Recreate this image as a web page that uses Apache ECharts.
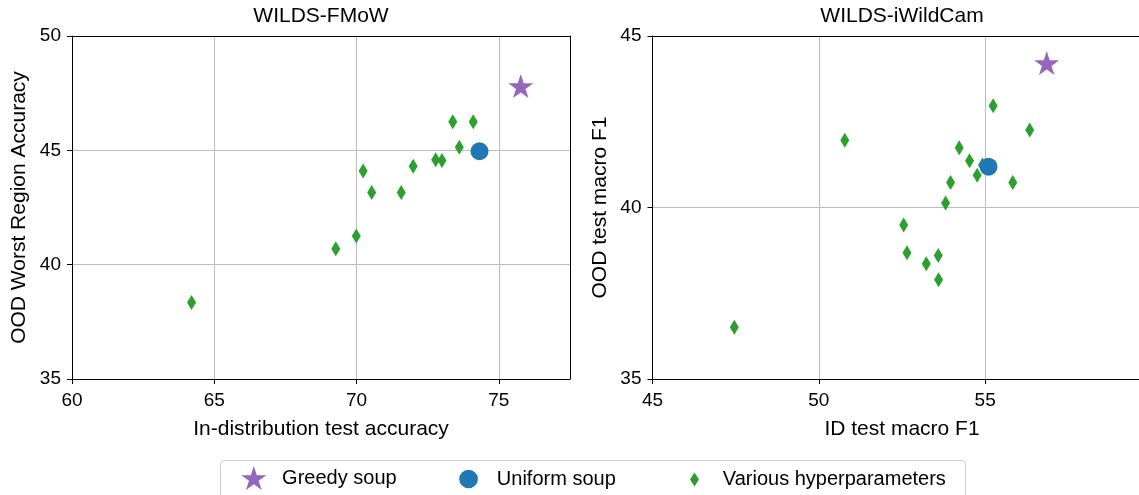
<!DOCTYPE html>
<html>
<head>
<meta charset="utf-8">
<script src="https://cdn.jsdelivr.net/npm/echarts@6/dist/echarts.min.js"></script>
<style>
html,body{margin:0;padding:0;background:#fff;}
#chart{width:1139px;height:495px;}
</style>
</head>
<body>
<div id="chart"></div>
<script>
// ---- data ----
const panelTitles = ['WILDS-FMoW', 'WILDS-iWildCam'];
const xAxisNames = ['In-distribution test accuracy', 'ID test macro F1'];
const yAxisNames = ['OOD Worst Region Accuracy', 'OOD test macro F1'];
const seriesNames = ['Greedy soup', 'Uniform soup', 'Various hyperparameters'];

const fmowXTicks = [60, 65, 70, 75];
const fmowYTicks = [35, 40, 45, 50];
const camXTicks = [45, 50, 55];
const camYTicks = [35, 40, 45];

const fmowGreedy = [[75.77, 47.81]];
const fmowUniform = [[74.32, 44.96]];
const fmowVarious = [
  [73.38, 46.25], [74.10, 46.25], [73.61, 45.13], [72.78, 44.59],
  [73.00, 44.56], [71.99, 44.30], [70.23, 44.10], [70.53, 43.16],
  [71.57, 43.16], [69.99, 41.25], [69.27, 40.70], [64.20, 38.35]
];

const camGreedy = [[56.85, 44.21]];
const camUniform = [[55.10, 41.19]];
const camVarious = [
  [55.24, 42.97], [56.34, 42.26], [50.78, 41.96], [54.22, 41.74],
  [54.53, 41.36], [54.92, 41.24], [54.76, 40.94], [55.83, 40.73],
  [53.96, 40.73], [53.81, 40.13], [52.55, 39.49], [52.65, 38.68],
  [53.59, 38.60], [53.23, 38.36], [53.60, 37.89], [47.46, 36.51]
];

// ---- style ----
const FONT = '"Liberation Sans", Arial, sans-serif';
const C_GREEDY = '#9467bd', C_UNIFORM = '#1f77b4', C_VARIOUS = '#2ca02c';
const STAR = 'path://M100 0 L122.45 69.1 L195.11 69.1 L136.33 111.8 L158.78 180.9 L100 138.2 L41.22 180.9 L63.67 111.8 L4.89 69.1 L77.55 69.1 Z';
const CIRC = 'path://M0 10 A10 10 0 1 1 20 10 A10 10 0 1 1 0 10 Z';
const DIAM = 'path://M9 0 L18 14 L9 28 L0 14 Z';

const grids = [
  {left: 72, top: 36, width: 498, height: 343},
  {left: 652.5, top: 36, width: 499, height: 343}
];
const xr = [[60, 77.5], [45, 60]];
const yr = [[35, 50], [35, 45]];
const xt = [fmowXTicks, camXTicks];
const yt = [fmowYTicks, camYTicks];

const xAxis = [], yAxis = [];
for (let i = 0; i < 2; i++) {
  xAxis.push({
    type: 'value', gridIndex: i, position: 'bottom', min: xr[i][0], max: xr[i][1], interval: 5,
    name: xAxisNames[i], nameLocation: 'middle', nameGap: 40,
    nameTextStyle: {fontSize: 21, color: '#000', fontFamily: FONT},
    axisLine: {show: true, onZero: false, lineStyle: {color: '#000', width: 1}},
    axisTick: {show: true, inside: false, length: 5, lineStyle: {color: '#000', width: 1}, customValues: xt[i]},
    axisLabel: {show: true, margin: 12, fontSize: 19, color: '#000', fontFamily: FONT, customValues: xt[i]},
    splitLine: {show: true, lineStyle: {color: '#bdbdbd', width: 1}}
  });
  xAxis.push({
    type: 'value', gridIndex: i, position: 'top', min: xr[i][0], max: xr[i][1],
    axisLine: {show: true, onZero: false, lineStyle: {color: '#000', width: 1}},
    axisTick: {show: false}, axisLabel: {show: false}, splitLine: {show: false}
  });
  yAxis.push({
    type: 'value', gridIndex: i, position: 'left', min: yr[i][0], max: yr[i][1], interval: 5,
    name: yAxisNames[i], nameLocation: 'middle', nameGap: 42, nameRotate: 90,
    nameTextStyle: {fontSize: 21, color: '#000', fontFamily: FONT},
    axisLine: {show: true, onZero: false, lineStyle: {color: '#000', width: 1}},
    axisTick: {show: true, inside: false, length: 5, lineStyle: {color: '#000', width: 1}, customValues: yt[i]},
    axisLabel: {show: true, margin: 11, fontSize: 19, color: '#000', fontFamily: FONT, customValues: yt[i]},
    splitLine: {show: true, lineStyle: {color: '#bdbdbd', width: 1}}
  });
  yAxis.push({
    type: 'value', gridIndex: i, position: 'right', min: yr[i][0], max: yr[i][1],
    axisLine: {show: true, onZero: false, lineStyle: {color: '#000', width: 1}},
    axisTick: {show: false}, axisLabel: {show: false}, splitLine: {show: false}
  });
}

function scatter(name, data, gi, symbol, size, color) {
  return {
    type: 'scatter', name: name, data: data,
    xAxisIndex: gi * 2, yAxisIndex: gi * 2,
    symbol: symbol, symbolSize: size,
    itemStyle: {color: color, opacity: 1},
    emphasis: {disabled: true}, silent: true
  };
}

const series = [
  scatter(seriesNames[2], fmowVarious, 0, 'diamond', [9, 15], C_VARIOUS),
  scatter(seriesNames[1], fmowUniform, 0, 'circle', 18, C_UNIFORM),
  scatter(seriesNames[0], fmowGreedy, 0, STAR, [25, 24], C_GREEDY),
  scatter(seriesNames[2], camVarious, 1, 'diamond', [9, 15], C_VARIOUS),
  scatter(seriesNames[1], camUniform, 1, 'circle', 18, C_UNIFORM),
  scatter(seriesNames[0], camGreedy, 1, STAR, [25, 24], C_GREEDY)
];

function legendItem(name, icon, left, top, h) {
  return {
    data: [{name: name, icon: icon}], left: left, top: top, padding: 0,
    itemWidth: 46.6, itemHeight: h, symbolKeepAspect: true, selectedMode: false,
    textStyle: {fontSize: 20, color: '#000', fontFamily: FONT}
  };
}

const option = {
  animation: false,
  backgroundColor: '#fff',
  title: panelTitles.map((t, i) => ({
    text: t, left: grids[i].left + grids[i].width / 2, top: 6, textAlign: 'center', padding: 0,
    textStyle: {fontSize: 21, fontWeight: 'normal', color: '#000', fontFamily: FONT}
  })),
  grid: grids.map(g => Object.assign({containLabel: false, outerBoundsMode: 'none'}, g)),
  xAxis: xAxis, yAxis: yAxis, series: series,
  legend: [
    legendItem(seriesNames[0], STAR, 241.2, 466, 24),
    legendItem(seriesNames[1], CIRC, 459.2, 469, 18.7),
    legendItem(seriesNames[2], DIAM, 690.0, 469.5, 14)
  ],
  graphic: [{
    type: 'rect', z: -10, silent: true,
    shape: {x: 220.5, y: 460.5, width: 745, height: 60, r: 4},
    style: {fill: '#fff', stroke: '#cccccc', lineWidth: 1}
  }]
};

const chart = echarts.init(document.getElementById('chart'), null, {renderer: 'canvas'});
chart.setOption(option);
</script>
</body>
</html>
